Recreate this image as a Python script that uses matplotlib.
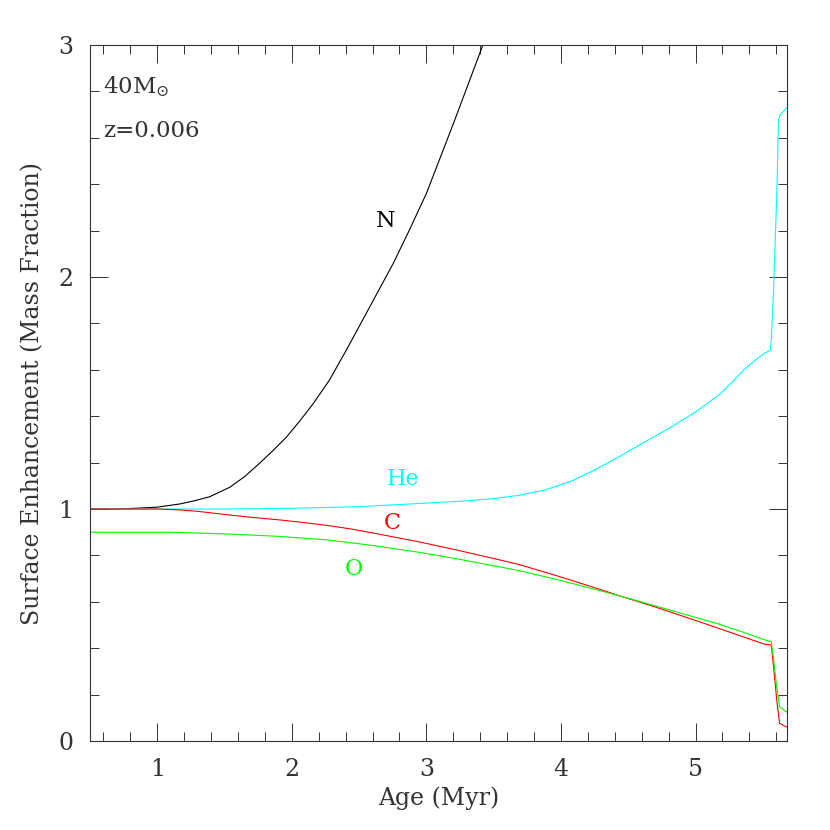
import numpy as np
import matplotlib
matplotlib.use("Agg")
import matplotlib.pyplot as plt
from matplotlib.ticker import MultipleLocator

plt.rcParams['font.family'] = ['DejaVu Serif']
plt.rcParams['mathtext.fontset'] = 'dejavuserif'

# surface abundances relative to initial, 40 Msun, z=0.006
n_age = [0.5, 0.7, 0.87, 1.0, 1.17, 1.28, 1.39, 1.54, 1.65, 1.76, 1.86, 1.96, 2.06, 2.16, 2.28,
         2.41, 2.55, 2.755, 2.88, 3.0, 3.1, 3.2, 3.31, 3.42, 3.5]
n_val = [1.0, 1.0, 1.004, 1.008, 1.022, 1.036, 1.053, 1.094, 1.14, 1.197, 1.252, 1.31, 1.38, 1.455, 1.556,
         1.69, 1.84, 2.06, 2.21, 2.36, 2.51, 2.66, 2.83, 3.0, 3.12]

he_age = [0.5, 1.5, 2.0, 2.5, 2.95, 3.3, 3.5, 3.7, 3.88, 4.07, 4.25, 4.44, 4.62, 4.81, 5.0, 5.18, 5.27,
          5.36, 5.45, 5.51, 5.556, 5.563, 5.58, 5.605, 5.617, 5.63, 5.68]
he_val = [1.0, 1.0, 1.003, 1.01, 1.024, 1.035, 1.045, 1.06, 1.082, 1.118, 1.168, 1.228, 1.288, 1.35, 1.418,
          1.494, 1.545, 1.60, 1.645, 1.67, 1.685, 1.73, 1.94, 2.375, 2.68, 2.70, 2.73]

c_age = [0.5, 1.0, 1.17, 1.3, 1.54, 1.72, 1.91, 2.1, 2.28, 2.45, 2.6, 2.95, 3.25, 3.55, 3.7, 4.0, 4.31,
         4.44, 4.7, 5.035, 5.18, 5.35, 5.51, 5.563, 5.58, 5.605, 5.625, 5.68]
c_val = [1.0, 1.0, 0.996, 0.99, 0.974, 0.963, 0.953, 0.941, 0.928, 0.913, 0.897, 0.858, 0.82, 0.78, 0.759,
         0.707, 0.65, 0.625, 0.578, 0.513, 0.484, 0.45, 0.418, 0.414, 0.32, 0.17, 0.076, 0.06]

o_age = [0.5, 1.1, 1.54, 1.91, 2.28, 2.6, 2.95, 3.25, 3.55, 3.7, 4.0, 4.31, 4.44, 4.7, 5.035, 5.18,
         5.35, 5.51, 5.563, 5.58, 5.60, 5.625, 5.68]
o_val = [0.9, 0.9, 0.892, 0.882, 0.866, 0.843, 0.813, 0.783, 0.75, 0.733, 0.692, 0.645, 0.625, 0.583,
         0.527, 0.503, 0.47, 0.437, 0.428, 0.355, 0.25, 0.148, 0.124]

labels = ["N", "He", "C", "O"]
label_pos = [(2.70, 2.24), (2.83, 1.13), (2.75, 0.94), (2.46, 0.74)]
colors = ["black", "#00ffff", "#ff0000", "#00ff00"]

fig = plt.figure(figsize=(8.3, 8.3), dpi=100)
ax = fig.add_axes([0.1084, 0.1072, 0.8398, 0.8386])

for age, val, c in zip([n_age, he_age, c_age, o_age], [n_val, he_val, c_val, o_val], colors):
    ax.plot(age, val, color=c, lw=0.8)

for lab, (lx, ly), c in zip(labels, label_pos, colors):
    ax.text(lx, ly, lab, color=c, fontsize=16, ha="center", va="center")

ax.text(0.6, 2.82, r"40M$_{\odot}$", fontsize=16.5, color="#333333", va="center")
ax.text(0.6, 2.63, "z=0.006", fontsize=16.5, color="#333333", va="center")

ax.set_xlim(0.5, 5.68)
ax.set_ylim(0, 3)
ax.xaxis.set_major_locator(MultipleLocator(1))
ax.xaxis.set_minor_locator(MultipleLocator(0.2))
ax.yaxis.set_major_locator(MultipleLocator(1))
ax.yaxis.set_minor_locator(MultipleLocator(0.2))
ax.tick_params(which="both", direction="in", top=True, right=True, colors="#333333",
               labelcolor="#333333", labelsize=17, width=0.7)
ax.tick_params(which="major", length=13)
ax.tick_params(axis="x", which="major", pad=12)
ax.tick_params(axis="y", which="major", pad=12)
ax.tick_params(which="minor", length=6.5)
for s in ax.spines.values():
    s.set_color("#333333")
    s.set_linewidth(0.8)

ax.set_xlabel("Age (Myr)", fontsize=17, color="#333333", labelpad=4)
ax.set_ylabel("Surface Enhancement (Mass Fraction)", fontsize=17, color="#333333", labelpad=10)

fig.savefig("out.png", dpi=100)
